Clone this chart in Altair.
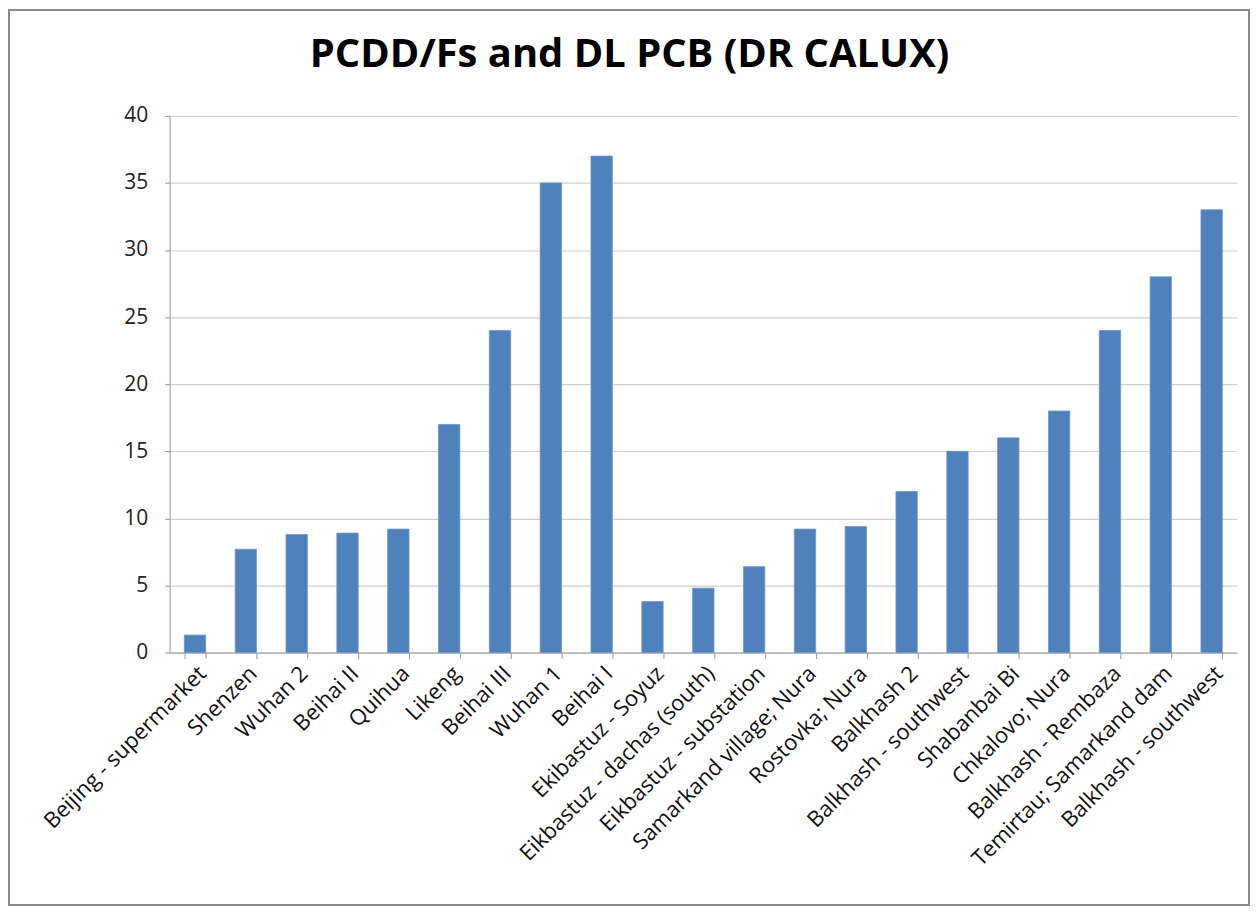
import altair as alt
import pandas as pd
import json

names = [
    "Beijing - supermarket", "Shenzen", "Wuhan 2", "Beihai II", "Quihua", "Likeng",
    "Beihai III", "Wuhan 1", "Beihai I", "Ekibastuz - Soyuz", "Eikbastuz - dachas (south)",
    "Eikbastuz - substation", "Samarkand village; Nura", "Rostovka; Nura", "Balkhash 2",
    "Balkhash - southwest", "Shabanbai Bi", "Chkalovo; Nura", "Balkhash - Rembaza",
    "Temirtau; Samarkand dam", "Balkhash - southwest",
]
values = [1.3, 7.7, 8.8, 8.9, 9.2, 17, 24, 35, 37, 3.8, 4.8, 6.4, 9.2, 9.4, 12, 15, 16, 18, 24, 28, 33]
y_ticks = [0, 5, 10, 15, 20, 25, 30, 35, 40]
title_text = "PCDD/Fs and DL PCB (DR CALUX)"

df = pd.DataFrame({"idx": list(range(len(names))), "name": names, "value": values})

W, H = 1070, 538
PL, PT = 162, 107

label_expr = json.dumps(names) + "[datum.value]"

bars = alt.Chart(df).mark_bar(color="#4f81bd", stroke="#6d95c9", strokeWidth=0.8).encode(
    x=alt.X("idx:O", sort=None,
            scale=alt.Scale(paddingInner=0.58, paddingOuter=0.29),
            axis=alt.Axis(title=None, labelExpr=label_expr, labelAngle=-45,
                          labelAlign="right", labelBaseline="top",
                          labelFont="Open Sans", labelFontSize=22, labelColor="#111111",
                          labelPadding=4, labelLimit=400, tickBand="extent", ticks=True,
                          tickSize=6, tickColor="#999999", domainColor="#999999", grid=False,
                          labelOverlap=False)),
    y=alt.Y("value:Q",
            scale=alt.Scale(domain=[0, 40], nice=False),
            axis=alt.Axis(title=None, values=y_ticks, labelFont="Open Sans", labelFontSize=21,
                          labelColor="#222222", labelPadding=17, tickSize=5,
                          tickColor="#999999", domainColor="#999999",
                          gridColor="#d0d0d0", gridWidth=1.2)),
)

deco = pd.DataFrame({"t": [title_text]})

border = alt.Chart(deco).mark_rect(
    fill=None, stroke="#8a8a8a", strokeWidth=2, clip=False
).encode(
    x=alt.value(-PL + 1), x2=alt.value(W + 12),
    y=alt.value(-PT + 1), y2=alt.value(H + 253),
)

title = alt.Chart(deco).mark_text(
    font="Open Sans", fontSize=40, fontWeight="bold", color="#000000",
    align="center", baseline="middle", clip=False
).encode(
    text="t:N",
    x=alt.value(W / 2 - 74), y=alt.value(-61),
)

chart = alt.layer(border, bars, title).properties(
    width=W, height=H,
    autosize=alt.AutoSizeParams(type="none"),
    padding={"left": PL, "top": PT, "right": 14, "bottom": 258},
).configure_view(stroke=None)

chart.save("out.html", embed_options={"renderer": "svg", "actions": False})
